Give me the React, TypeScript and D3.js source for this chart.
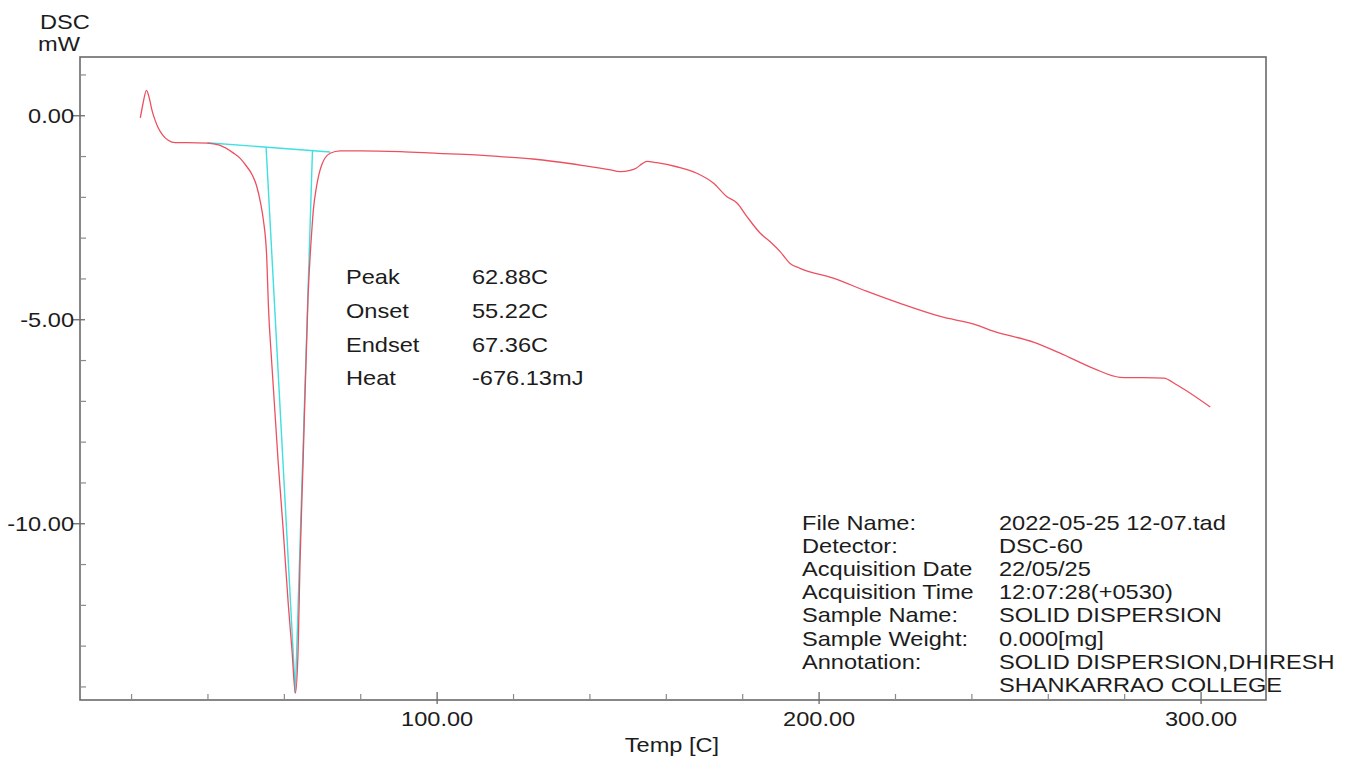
import React from "react";
import * as d3 from "d3";

const temps = [22.3, 23.0, 23.9, 24.6, 25.3, 26.2, 27.0, 28.2, 29.6, 31.4, 34.6, 39.8, 43.0, 46.6, 48.5, 50.2, 51.6, 52.8, 53.8, 54.5, 55.4, 55.8, 56.7, 58.4, 59.7, 61.0, 62.0, 62.88, 63.6, 64.1, 64.9, 66.2, 67.2, 67.6, 68.4, 69.8, 72.0, 74.6, 80, 90.3, 100, 110, 116.5, 125.1, 138.2, 145, 147.9, 150.5, 152.2, 153.6, 154.9, 157.5, 162.7, 168, 172.3, 175.8, 178.5, 181.1, 184.6, 187.2, 189.8, 192.4, 195, 203.7, 212.4, 221.2, 231.7, 241.3, 245.6, 256.1, 263.1, 271.8, 278.8, 290.2, 293.7, 302.4];
const dsc = [-0.05, 0.30, 0.62, 0.45, 0.15, -0.12, -0.30, -0.48, -0.60, -0.66, -0.66, -0.67, -0.72, -0.91, -1.05, -1.25, -1.45, -1.74, -2.15, -2.55, -3.5, -4.6, -6.06, -8.51, -10.15, -11.94, -13.1, -14.15, -13.1, -10.96, -8.51, -4.44, -2.8, -2.3, -1.75, -1.2, -0.92, -0.86, -0.86, -0.88, -0.92, -0.96, -1.0, -1.06, -1.22, -1.32, -1.37, -1.34, -1.28, -1.18, -1.12, -1.15, -1.25, -1.41, -1.65, -1.98, -2.14, -2.47, -2.88, -3.09, -3.33, -3.62, -3.74, -3.98, -4.3, -4.6, -4.92, -5.13, -5.28, -5.55, -5.82, -6.19, -6.41, -6.43, -6.6, -7.14];

// baseline and tangent construction (cyan)
const baseT = [39.8, 72.0];
const baseV = [-0.66, -0.89];
const onsetT = 55.22;
const endsetT = 67.36;
const peakT = 62.88;
const peakV = -14.15;

const yMajor = [0, -5, -10];
const yMajorLabels = ["0.00", "-5.00", "-10.00"];
const yMinor = [1, -1, -2, -3, -4, -6, -7, -8, -9, -11, -12, -13, -14];
const xMajor = [100, 200, 300];
const xMajorLabels = ["100.00", "200.00", "300.00"];
const xMinor = [20, 40, 60, 80, 120, 140, 160, 180, 220, 240, 260, 280];

const peakLabels = ["Peak", "Onset", "Endset", "Heat"];
const peakValues = ["62.88C", "55.22C", "67.36C", "-676.13mJ"];

const infoLabels = ["File Name:", "Detector:", "Acquisition Date", "Acquisition Time", "Sample Name:", "Sample Weight:", "Annotation:", ""];
const infoValues = ["2022-05-25 12-07.tad", "DSC-60", "22/05/25", "12:07:28(+0530)", "SOLID DISPERSION", "0.000[mg]", "SOLID DISPERSION,DHIRESH", "SHANKARRAO COLLEGE"];

const W = 1347, H = 774;
const L = 80, T = 57, R = 1266, B = 700;
const SX = 1.18;
const FONT = "'Liberation Sans', Arial, sans-serif";
const TXT = "#1c1c1c";

function Txt({ x, y, children, anchor = "start", size = 20 }: any) {
  return (
    <text transform={`translate(${x},${y}) scale(${SX},1)`} textAnchor={anchor}
      fontFamily={FONT} fontSize={size} fill={TXT}>{children}</text>
  );
}

export default function App() {
  const x = d3.scaleLinear().domain([6.5, 317]).range([L, R]);
  const y = d3.scaleLinear().domain([1.44, -14.32]).range([T, B]);
  const pts = temps.map((t, i) => [t, dsc[i]] as [number, number]);
  const line = d3.line<[number, number]>().x(d => x(d[0])).y(d => y(d[1])).curve(d3.curveMonotoneX);
  const baseAt = (t: number) => baseV[0] + (baseV[1] - baseV[0]) * (t - baseT[0]) / (baseT[1] - baseT[0]);
  const cyan = "#3fe0e0";
  return (
    <svg width={W} height={H} style={{ position: "absolute", left: 0, top: 0, background: "#fff" }}>
      <rect x={0} y={0} width={W} height={H} fill="#fff" />
      {/* axis titles */}
      <Txt x={40} y={29}>DSC</Txt>
      <Txt x={38} y={51}>mW</Txt>
      <Txt x={672} y={752} anchor="middle">{"Temp  [C]"}</Txt>
      {/* frame */}
      <rect x={L} y={T} width={R - L} height={B - T} fill="none" stroke="#6a6a6a" strokeWidth={1.6} />
      {/* y ticks */}
      {yMajor.map((v, i) => (
        <g key={"ym" + i}>
          <line x1={L - 7} x2={L + 5} y1={y(v)} y2={y(v)} stroke="#6a6a6a" strokeWidth={1.3} />
          <Txt x={L - 6} y={y(v) + 7} anchor="end">{yMajorLabels[i]}</Txt>
        </g>
      ))}
      {yMinor.map((v, i) => (
        <line key={"yn" + i} x1={L} x2={L + 6} y1={y(v)} y2={y(v)} stroke="#8a8a8a" strokeWidth={1.2} />
      ))}
      {/* x ticks */}
      {xMajor.map((v, i) => (
        <g key={"xm" + i}>
          <line x1={x(v)} x2={x(v)} y1={B - 8} y2={B + 4} stroke="#6a6a6a" strokeWidth={1.3} />
          <Txt x={x(v)} y={726} anchor="middle">{xMajorLabels[i]}</Txt>
        </g>
      ))}
      {xMinor.map((v, i) => (
        <line key={"xn" + i} x1={x(v)} x2={x(v)} y1={B - 6} y2={B} stroke="#8a8a8a" strokeWidth={1.2} />
      ))}
      {/* cyan construction */}
      <line x1={x(baseT[0])} y1={y(baseV[0])} x2={x(baseT[1])} y2={y(baseV[1])} stroke={cyan} strokeWidth={1.4} />
      <line x1={x(onsetT)} y1={y(baseAt(onsetT))} x2={x(peakT)} y2={y(peakV)} stroke={cyan} strokeWidth={1.4} />
      <line x1={x(endsetT)} y1={y(baseAt(endsetT))} x2={x(peakT)} y2={y(peakV)} stroke={cyan} strokeWidth={1.4} />
      {/* curve */}
      <path d={line(pts) || ""} fill="none" stroke="#ec5060" strokeWidth={1.3} />
      {/* peak annotation */}
      {peakLabels.map((s, i) => (
        <g key={"pk" + i}>
          <Txt x={346} y={284 + i * 33.8}>{s}</Txt>
          <Txt x={472} y={284 + i * 33.8}>{peakValues[i]}</Txt>
        </g>
      ))}
      {/* info block */}
      {infoLabels.map((s, i) => (
        <g key={"in" + i}>
          {s ? <Txt x={802} y={530 + i * 23.1}>{s}</Txt> : null}
          <Txt x={999} y={530 + i * 23.1}>{infoValues[i]}</Txt>
        </g>
      ))}
    </svg>
  );
}
